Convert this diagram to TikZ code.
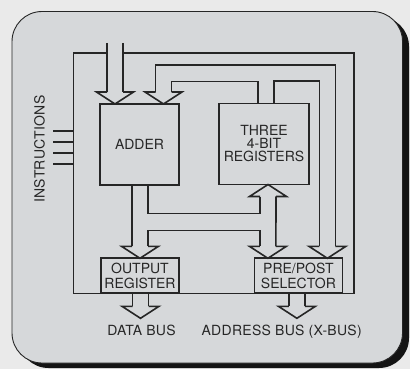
\documentclass[tikz,border=0pt]{standalone}
\usepackage{fontspec}
\setmainfont{TeX Gyre Heros}
\usepackage{tikz}
\usetikzlibrary{calc}
\definecolor{pageBg}{HTML}{EAEAEA}
\definecolor{panelGray}{HTML}{D6D8DA}
\definecolor{inkDark}{HTML}{262626}

\begin{document}
\begin{tikzpicture}[x=1pt,y=-1pt,
  wire/.style={draw=inkDark,line width=1.6pt},
  blk/.style={draw=inkDark,line width=1.8pt,inner sep=0pt,outer sep=0pt,align=center,
    text=inkDark,font=\fontsize{14}{13}\selectfont},
  lbl/.style={text=inkDark,inner sep=0pt,font=\fontsize{14}{14}\selectfont\addfontfeature{LetterSpace=2}},
  bushead/.pic={\draw[wire] (-8,-12) -- (-18.5,-12) -- (0,0) -- (18.5,-12) -- (8,-12);}]
% --- panel ---
  \fill[pageBg] (0,0) rectangle (410,369);
  \useasboundingbox (0,0) rectangle (410,369);
  \fill[black!92,rounded corners=30pt] (18.5,16.5) rectangle (409,368);
  \filldraw[fill=panelGray,draw=inkDark,line width=0.9pt,rounded corners=30pt] (12,11.5) rectangle (402.5,363);
% --- blocks ---
  \node[blk,minimum width=79pt,minimum height=81pt] (adder) at (139.5,144.5) {ADDER};
  \node[blk,minimum width=90pt,minimum height=81pt] (regs) at (264,144) {THREE\\4-BIT\\REGISTERS};
  \node[blk,minimum width=78pt,minimum height=35pt,font=\fontsize{14}{14.5}\selectfont] (outreg) at (140,275.8) {OUTPUT\\REGISTER};
  \node[blk,minimum width=88pt,minimum height=35pt,font=\fontsize{14}{14.5}\selectfont] (sel) at (298.4,275.8) {PRE/POST\\SELECTOR};
% --- arrow tips and frame corners ---
  \coordinate (src) at (115,43);
  \coordinate (fNW) at (73.3,53.3);
  \coordinate (fSE) at (354,293.3);
  \coordinate (inA) at ($(adder.north west)+(15,0)$);
  \coordinate (inB) at ($(adder.north west)+(63.5,0)$);
  \coordinate (rA) at ($(regs.north west)+(39,0)$);
  \coordinate (rB) at ($(regs.north west)+(55,0)$);
  \coordinate (rUp) at ($(regs.south west)+(49,0)$);
  \coordinate (sA) at ($(sel.north west)+(13.5,0)$);
  \coordinate (sB) at ($(sel.north west)+(73,0)$);
  \coordinate (oL) at ($(outreg.north)+(-8,-12)$);
  \coordinate (oR) at ($(outreg.north)+(8,-12)$);
  \coordinate (dBus) at ($(outreg.south)+(0.5,25)$);
  \coordinate (aBus) at ($(sel.south)+(-1.5,25)$);
% --- heads ---
  \pic at (inA) {bushead};
  \pic at (inB) {bushead};
  \pic at (outreg.north) {bushead};
  \pic at (sA) {bushead};
  \pic at (sB) {bushead};
  \pic[rotate=180] at (rUp) {bushead};
  \pic at (dBus) {bushead};
  \pic at (aBus) {bushead};
% --- wires ---
  \draw[wire] ($(src)+(-8,0)$) -- ($(inA)+(-8,-12)$);
  \draw[wire] ($(src)+(8,0)$) -- ($(inA)+(8,-12)$);
  \draw[wire] (107,53.3) -- (fNW) |- (fSE) |- (123,53.3);
  \draw[wire] ($(inB)+(-8,-12)$) -- ($(inB)+(-8,-39)$) -| ($(sB)+(8,-12)$);
  \draw[wire] ($(inB)+(8,-12)$) -- ($(inB)+(8,-22.3)$) -| (rA);
  \draw[wire] (rB) -- ($(rB)+(0,-22.3)$) -| ($(sB)+(-8,-12)$);
  \draw[wire] (adder.south -| oL) -- (oL);
  \draw[wire] (adder.south -| oR) -- ++(0,28.3) -| ($(rUp)+(-8,12)$);
  \draw[wire] ($(rUp)+(8,12)$) -- ($(sA)+(8,-12)$);
  \draw[wire] (oR) -- ++(0,-16) -| ($(sA)+(-8,-12)$);
  \draw[wire] ($(dBus)+(-8,-25)$) -- ($(dBus)+(-8,-12)$);
  \draw[wire] ($(dBus)+(8,-25)$) -- ($(dBus)+(8,-12)$);
  \draw[wire] ($(aBus)+(-8,-25)$) -- ($(aBus)+(-8,-12)$);
  \draw[wire] ($(aBus)+(8,-25)$) -- ($(aBus)+(8,-12)$);
  \foreach \y in {131,142,153,164}
    \draw[wire] (53,\y) -- ++(20.3,0);
% --- labels ---
  \node[lbl,rotate=90] (instr) at (39.5,149) {INSTRUCTIONS};
  \node[lbl,anchor=base] (dlab) at (141.5,335) {DATA BUS};
  \node[lbl,anchor=base] (alab) at (281.7,335) {ADDRESS BUS (X-BUS)};
\end{tikzpicture}
\end{document}
